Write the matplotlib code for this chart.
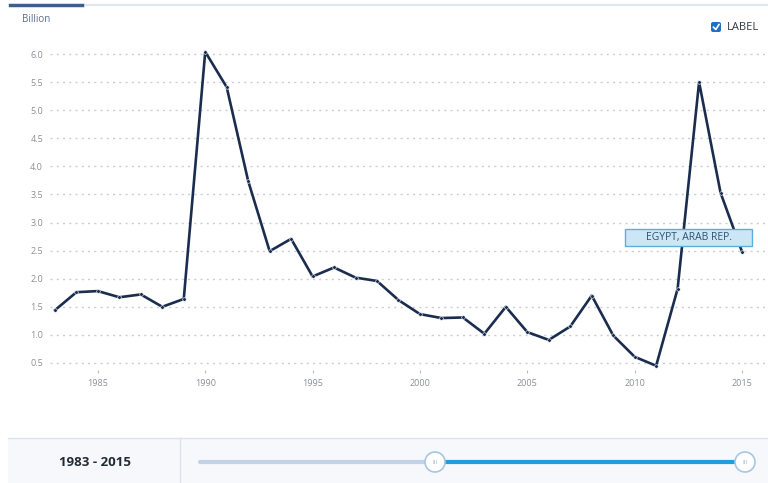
import matplotlib.pyplot as plt
from matplotlib.patches import Rectangle, Circle, FancyBboxPatch

# Egypt, Arab Rep. (billions)
years = list(range(1983, 2016))
values = [1.44, 1.76, 1.78, 1.67, 1.72, 1.50, 1.64, 6.04, 5.41, 3.74,
          2.49, 2.71, 2.04, 2.20, 2.02, 1.96, 1.62, 1.37, 1.30, 1.31,
          1.02, 1.50, 1.05, 0.91, 1.15, 1.70, 0.99, 0.61, 0.45, 1.82,
          5.50, 3.53, 2.48]
x_ticks = [1985, 1990, 1995, 2000, 2005, 2010, 2015]
y_ticks = [0.5, 1.0, 1.5, 2.0, 2.5, 3.0, 3.5, 4.0, 4.5, 5.0, 5.5, 6.0]
range_label = '1983 - 2015'
series_name = 'EGYPT, ARAB REP.'

plt.rcParams['font.family'] = ['Open Sans', 'DejaVu Sans']

W, H = 768, 483
fig = plt.figure(figsize=(W / 100, H / 100), dpi=100)

# main chart, placed in pixel terms
left, right, top, bottom = 50, 765, 40, 370
ax = fig.add_axes([left / W, (H - bottom) / H, (right - left) / W, (bottom - top) / H])
ax.plot(years, values, color='#1b2d4f', linewidth=1.9, marker='o',
        markersize=2.6, markerfacecolor='#1b2d4f', markeredgecolor='white',
        markeredgewidth=0.4, zorder=3)
ax.set_xlim(1982.77, 2016.07)
ax.set_ylim(0.375, 6.25)
ax.set_xticks(x_ticks)
ax.set_yticks(y_ticks)
ax.set_yticklabels([f'{v:.1f}' for v in y_ticks])
ax.grid(axis='y', color='#c9ced6', linestyle=(0, (1.5, 3)), linewidth=1.0)
ax.grid(axis='x', visible=False)
for s in ax.spines.values():
    s.set_visible(False)
ax.tick_params(axis='y', length=0, pad=5, labelsize=6.5, labelcolor='#8a8f98')
ax.tick_params(axis='x', length=2.5, width=0.8, color='#b8bec8', pad=4,
               labelsize=6.5, labelcolor='#8a8f98')

# overlay for the page furniture, in pixel coordinates
ov = fig.add_axes([0, 0, 1, 1], zorder=5)
ov.set_xlim(0, W)
ov.set_ylim(H, 0)
ov.axis('off')
ov.patch.set_alpha(0)

# tab line at top
ov.plot([82, 768], [5, 5], color='#dfe6ef', linewidth=1.5)
ov.plot([10, 82], [5, 5], color='#3d5f8c', linewidth=2.5)
ov.text(22, 20, 'Billion', fontsize=7, color='#5a6d88', va='center')

# LABEL checkbox
ov.add_patch(FancyBboxPatch((711, 22), 10, 10, boxstyle='round,pad=0,rounding_size=2',
                            facecolor='#1f6fc5', edgecolor='none'))
ov.plot([713.5, 715.8, 719], [27.2, 29.5, 24.5], color='white', linewidth=1.2)
ov.text(727, 27, 'LABEL', fontsize=8, color='#333a45', va='center')

# series label box
ov.add_patch(Rectangle((625, 229), 127, 17, facecolor='#cde6f6',
                       edgecolor='#5aaee0', linewidth=1.0))
ov.text(688.5, 237.5, series_name, fontsize=7.5, color='#2e5070',
        ha='center', va='center')

# bottom slider panel
ov.add_patch(Rectangle((8, 438), 760, 45, facecolor='#f7f8fb',
                       edgecolor='none'))
ov.plot([8, 768], [438, 438], color='#dde3ee', linewidth=1.0)
ov.plot([180, 180], [438, 483], color='#dde3ee', linewidth=1.0)
ov.text(95, 462, range_label, fontsize=9.5, fontweight='bold', color='#222a35',
        ha='center', va='center')
ov.plot([200, 435], [462, 462], color='#c3d2e5', linewidth=3, solid_capstyle='round')
ov.plot([435, 745], [462, 462], color='#1e9fdc', linewidth=3)
for hx in (435, 745):
    ov.add_patch(Circle((hx, 462), 10, facecolor='white', edgecolor='#a8c6e2',
                        linewidth=1.2, zorder=6))
    ov.text(hx, 462, 'III', fontsize=4.5, color='#a8b4c4', ha='center',
            va='center', zorder=7)

fig.savefig('out.png', dpi=100)
